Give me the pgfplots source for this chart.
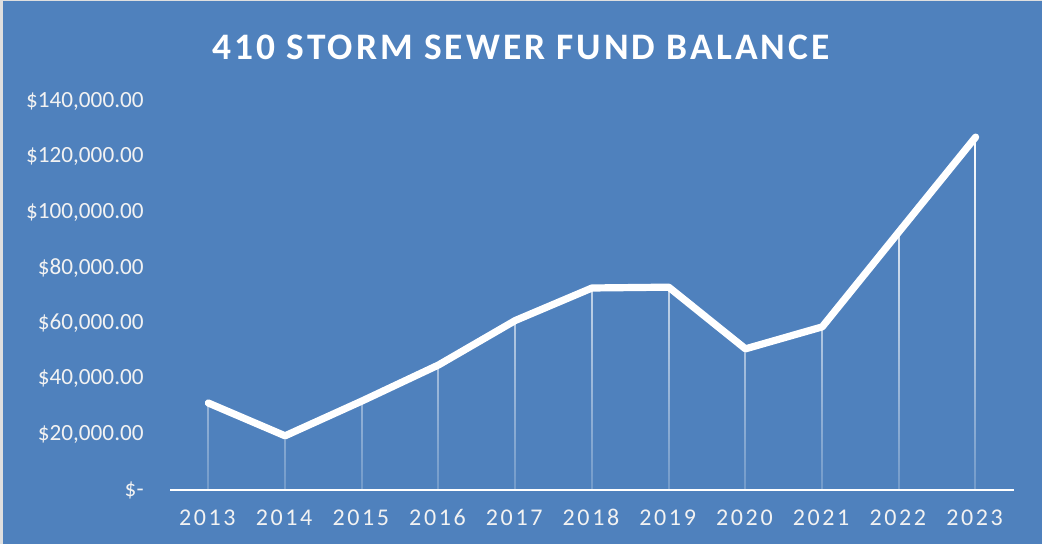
\documentclass[border=0pt]{standalone}
\usepackage{fontspec}
\setmainfont{Carlito}
\newfontfamily\titlefont[LetterSpace=8]{Carlito}
\newfontfamily\spaced[LetterSpace=11]{Carlito}
\usepackage{pgfplots}
\pgfplotsset{compat=1.18}
\usetikzlibrary{fadings}
\definecolor{bg}{RGB}{79,129,189}
\definecolor{ticktext}{RGB}{242,242,242}
\tikzfading[name=fadedown, top color=transparent!0, middle color=transparent!10, bottom color=transparent!80]
\pgfplotstableread{
year value
2013 31300
2014 19500
2015 32000
2016 45000
2017 61000
2018 72700
2019 73000
2020 50800
2021 58700
2022 92900
2023 127000
}\fund
\begin{document}
\begin{tikzpicture}
\fill[bg] (0,0) rectangle (521pt,272pt);
\fill[gray!25] (0,0) rectangle (1.5pt,272pt);
\fill[gray!25] (0,271.5pt) rectangle (521pt,272pt);
\node[white, font=\titlefont\bfseries\fontsize{18.7}{22}\selectfont] at (260.5pt,248.5pt) {410 STORM SEWER FUND BALANCE};
\begin{axis}[
  at={(85pt,27pt)}, anchor=south west,
  scale only axis, width=422pt, height=194.5pt,
  xmin=2012.5, xmax=2023.5, ymin=0, ymax=140000,
  clip=false,
  scaled y ticks=false,
  axis line style={draw=none},
  major tick length=0pt,
  xtick={2013,...,2023},
  xticklabels={2013,2014,2015,2016,2017,2018,2019,2020,2021,2022,2023},
  ytick={0,20000,40000,60000,80000,100000,120000,140000},
  yticklabels={{\$-\hspace{4.5pt}},{\$20,000.00},{\$40,000.00},{\$60,000.00},{\$80,000.00},{\$100,000.00},{\$120,000.00},{\$140,000.00}},
  yticklabel style={anchor=east, inner sep=0pt, xshift=-13pt, text=ticktext, font=\fontsize{11.6}{13}\selectfont},
  xticklabel style={anchor=base, inner sep=0pt, yshift=-18pt, xshift=-0.5pt, text=ticktext, font=\spaced\fontsize{12}{14}\selectfont},
]
\addplot[ycomb, draw=white, line width=1pt, path fading=fadedown, mark=none] table[x=year, y=value] {\fund};
\draw[white, line width=1.2pt] (axis cs:2012.5,0) -- (axis cs:2023.5,0);
\addplot[white, line width=3.6pt, line join=round, line cap=round, mark=none] table[x=year, y=value] {\fund};
\end{axis}
\end{tikzpicture}
\end{document}
